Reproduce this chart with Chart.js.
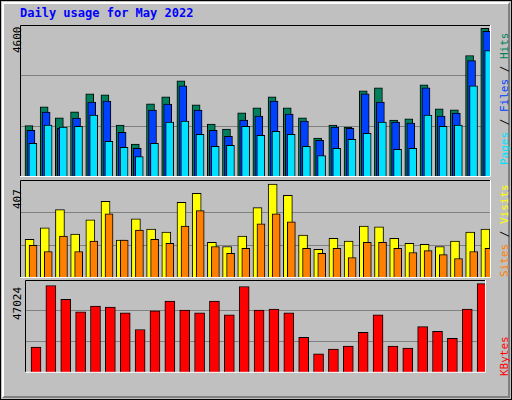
<!DOCTYPE html>
<html><head><meta charset="utf-8">
<script src="https://cdn.jsdelivr.net/npm/chart.js@4/dist/chart.umd.min.js"></script>
<style>
html,body{margin:0;padding:0;background:#fff;}
#wrap{position:absolute;left:0;top:0;width:510px;height:398px;background:#c0c0c0;border:1px solid #000;}
#inner{position:absolute;left:1px;top:1px;width:504px;height:392px;border-top:2px solid #fff;border-left:2px solid #fff;border-right:2px solid #808080;border-bottom:2px solid #808080;}
.txt{position:absolute;font-family:"DejaVu Sans Mono",monospace;white-space:nowrap;}
#title{left:20px;top:6px;font-size:12px;font-weight:bold;color:#0000ff;}
.rot{transform-origin:0 0;transform:rotate(-90deg);font-size:11px;}
canvas{position:absolute;}
</style></head><body>
<div id="wrap"><div id="inner"></div></div>
<div class="txt" id="title">Daily usage for May 2022</div>
<div class="txt rot" style="left:11px;top:53px;color:#000">4600</div>
<div class="txt rot" style="left:11px;top:209px;color:#000">407</div>
<div class="txt rot" style="left:11px;top:320px;color:#000">47024</div>
<div class="txt rot" style="left:498px;top:165px;"><span style="color:#00e0ff">Pages</span><span style="color:#000"> / </span><span style="color:#0040ff">Files</span><span style="color:#000"> / </span><span style="color:#00805c">Hits</span></div>
<div class="txt rot" style="left:498px;top:277px;"><span style="color:#ff8000">Sites</span><span style="color:#000"> / </span><span style="color:#ffff00">Visits</span></div>
<div class="txt rot" style="left:498px;top:376px;color:#ff0000">KBytes</div>
<canvas id="c1" width="471" height="152" style="left:20px;top:25px"></canvas>
<canvas id="c2" width="471" height="98" style="left:20px;top:180px"></canvas>
<canvas id="c3" width="471" height="116" style="left:20px;top:280px"></canvas>
<script>
const days=[1,2,3,4,5,6,7,8,9,10,11,12,13,14,15,16,17,18,19,20,21,22,23,24,25,26,27,28,29,30,31];
const weekend=[1,7,8,14,15,21,22,28,29];
const hits=[1553,2123,1787,1970,2518,2488,1574,995,2214,2427,2914,2183,1605,1452,1940,2092,2427,2092,1787,1178,1574,1513,2610,2701,1726,1757,2793,2062,2031,3676,4499];
const files=[1415,1965,1476,1781,2270,2300,1354,865,2026,2209,2759,2026,1415,1232,1720,1843,2300,1904,1690,1110,1507,1476,2514,2270,1659,1629,2698,1843,1934,3522,4408];
const pages=[1018,1568,1507,1537,1873,1079,896,621,1018,1659,1690,1293,926,957,1537,1262,1384,1293,926,651,865,1140,1323,1659,835,865,1873,1537,1568,2759,3828];
const visits=[161,208,284,182,242,318,157,246,203,191,314,352,148,131,174,292,390,343,178,119,165,153,216,212,165,144,140,131,153,191,203];
const sites=[136,110,174,110,153,267,157,199,161,144,216,280,131,102,123,225,267,233,123,102,123,85,148,148,123,106,114,97,81,110,123];
const kbytes=[13035,44220,37290,30855,33825,33330,30360,21945,31350,36300,31845,30360,36300,29370,43725,31845,32340,30360,17985,9570,12045,13530,20460,29370,13530,12540,23430,20955,17490,32340,45210];
const maxTop=4600, maxMid=407, maxBot=47024;

function pts(arr){return arr.map((v,i)=>({x:days[i],y:v}));}
function xAx(shift){return {type:'linear',display:false,offset:false,min:0.5-shift,max:31.5-shift};}
function yAx(max){return {min:0,max:max,ticks:{display:false,stepSize:max/3},border:{display:false},
  grid:{drawTicks:false,color:c=>(c.tick.value>0.01*max&&c.tick.value<0.99*max)?'#808080':'rgba(0,0,0,0)',lineWidth:1},
  afterFit:s=>{s.width=0;}};}
function ds(arr,color,axis,w,ord){return {data:pts(arr),xAxisID:axis,backgroundColor:color,borderColor:'#000',borderWidth:1,barThickness:w,grouped:false,order:ord};}
const frame={id:'frame',afterDraw(ch){const a=ch.chartArea,g=ch.ctx;g.save();g.lineWidth=1;
  g.strokeStyle='#000';g.beginPath();g.moveTo(a.left+0.5,a.bottom);g.lineTo(a.left+0.5,a.top+0.5);g.lineTo(a.right,a.top+0.5);g.stroke();
  g.strokeStyle='#fff';g.beginPath();g.moveTo(a.right-0.5,a.top);g.lineTo(a.right-0.5,a.bottom-0.5);g.lineTo(a.left,a.bottom-0.5);g.stroke();g.restore();}};
const base={responsive:false,animation:false,devicePixelRatio:1,layout:{padding:0},plugins:{legend:{display:false},tooltip:{enabled:false}}};

new Chart(document.getElementById('c1'),{type:'bar',plugins:[frame],
 data:{datasets:[ds(hits,'#00805c','x0',8,3),ds(files,'#0040ff','x1',8,2),ds(pages,'#00e0ff','x2',8,1)]},
 options:Object.assign({},base,{scales:{x0:xAx(0.09),x1:xAx(0.22),x2:xAx(0.35),y:yAx(maxTop)}})});

new Chart(document.getElementById('c2'),{type:'bar',plugins:[frame],
 data:{datasets:[ds(visits,'#ffff00','x0',9,2),ds(sites,'#ff8000','x1',8,1)]},
 options:Object.assign({},base,{scales:{x0:xAx(0.13),x1:xAx(0.36),y:yAx(maxMid)}})});

new Chart(document.getElementById('c3'),{type:'bar',plugins:[frame],
 data:{datasets:[ds(kbytes,'#ff0000','x',10,1)]},
 options:Object.assign({},base,{scales:{
  x:{type:'linear',position:'bottom',offset:false,min:0.26,max:31.26,grid:{display:false,drawTicks:false},border:{display:false},
     ticks:{stepSize:1,autoSkip:false,maxRotation:0,padding:5,font:{family:'DejaVu Sans',size:11},
       callback:v=>Number.isInteger(v)?String(v):'',
       color:c=>weekend.includes(c.tick.value)?'#008060':'#000'}},
  y:yAx(maxBot)}})});
</script>
</body></html>
